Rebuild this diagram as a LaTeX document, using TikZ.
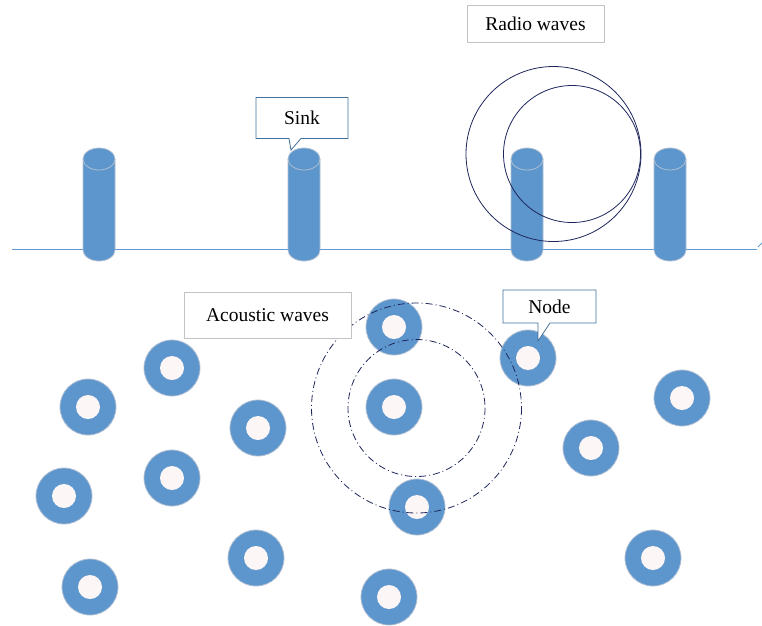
\documentclass[tikz,border=0pt]{standalone}
\usepackage{fontspec}
\setmainfont{Liberation Serif}
\usetikzlibrary{shapes.callouts}
\definecolor{fillblue}{RGB}{92,150,205}
\definecolor{rimgray}{RGB}{175,190,210}
\definecolor{holefill}{RGB}{253,246,246}
\definecolor{wavenavy}{RGB}{30,38,92}
\definecolor{callborder}{RGB}{65,113,156}
\definecolor{labelgray}{RGB}{195,195,195}
\definecolor{groundblue}{RGB}{95,155,210}
\tikzset{
  sensor/.style={circle, fill=fillblue, draw=rimgray, line width=0.8pt,
    minimum size=56pt, inner sep=0pt,
    path picture={\fill[holefill] (path picture bounding box.center) circle (12pt);}},
  wavelabel/.style={draw=labelgray, line width=1pt, fill=white, font=\fontsize{19.5}{22}\selectfont,
    inner sep=0pt},
  callbox/.style={rectangle callout, draw=callborder, line width=0.8pt, fill=white,
    font=\fontsize{19.5}{22}\selectfont, inner sep=0pt, callout pointer width=12pt},
  radiowave/.style={draw=wavenavy, line width=0.8pt},
  acousticwave/.style={draw=wavenavy, line width=0.8pt, dash pattern=on 7pt off 3pt on 1pt off 3pt},
}
% upright cylinder: #1 = centre x, #2 = top ellipse centre y, #3 = bottom ellipse centre y
\newcommand{\mastcyl}[3]{%
  \filldraw[fill=fillblue, draw=rimgray, line width=0.8pt]
    (#1-16,#2) -- (#1-16,#3) arc[start angle=180, end angle=360, x radius=16, y radius=-11]
    -- (#1+16,#2) arc[start angle=0, end angle=180, x radius=16, y radius=-11] -- cycle;
  \draw[rimgray, line width=0.8pt] (#1-16,#2) arc[start angle=180, end angle=360, x radius=16, y radius=-11];
}
\begin{document}
\begin{tikzpicture}[x=1pt, y=-1pt]
\useasboundingbox (0,0) rectangle (762,625);

% sea surface
\coordinate (surfL) at (12,249);
\coordinate (surfR) at (757,249);
\coordinate (tickA) at (758,247);
\coordinate (tickB) at (762,243);
\draw[groundblue, line width=1pt] (surfL) -- (surfR);
\draw[groundblue, line width=1pt] (tickA) -- (tickB);

% surface buoys / sinks
\mastcyl{99}{159}{250}
\mastcyl{304}{159}{250}
\mastcyl{527}{159}{250}
\mastcyl{670}{159}{250}

% radio waves
\coordinate (radioC1) at (553.5,154);
\coordinate (radioC2) at (572,154);
\draw[radiowave] (radioC1) circle (87.5);
\draw[radiowave] (radioC2) circle (68.5);
\node[wavelabel, minimum width=137pt, minimum height=37pt] (radiolbl) at (535.5,23.5) {Radio waves};

% sink callout
\node[callbox, minimum width=92pt, minimum height=41pt, callout absolute pointer={(291,150)}] (sinklbl) at (302,118) {Sink};

% underwater sensor nodes
\node[sensor] (n1) at (394,327) {};
\node[sensor] (n2) at (172,368) {};
\node[sensor] (n3) at (88,407) {};
\node[sensor] (n4) at (258,428) {};
\node[sensor] (n5) at (394,407) {};
\node[sensor] (n6) at (528,358) {};
\node[sensor] (n7) at (682,398) {};
\node[sensor] (n8) at (591,448) {};
\node[sensor] (n9) at (172,478) {};
\node[sensor] (n10) at (64,496) {};
\node[sensor] (n11) at (417,507) {};
\node[sensor] (n12) at (256,558) {};
\node[sensor] (n13) at (90,587) {};
\node[sensor] (n14) at (653,558) {};
\node[sensor] (n15) at (389,597) {};

% acoustic waves
\coordinate (acC) at (416.5,408);
\draw[acousticwave] (acC) circle (105);
\draw[acousticwave] (acC) circle (68.5);
\node[wavelabel, minimum width=167pt, minimum height=46pt] (acousticlbl) at (267.5,315) {Acoustic waves};

% node callout
\node[callbox, minimum width=93pt, minimum height=33pt, callout absolute pointer={(538,341)}] (nodelbl) at (549.5,306.5) {Node};
\end{tikzpicture}
\end{document}
